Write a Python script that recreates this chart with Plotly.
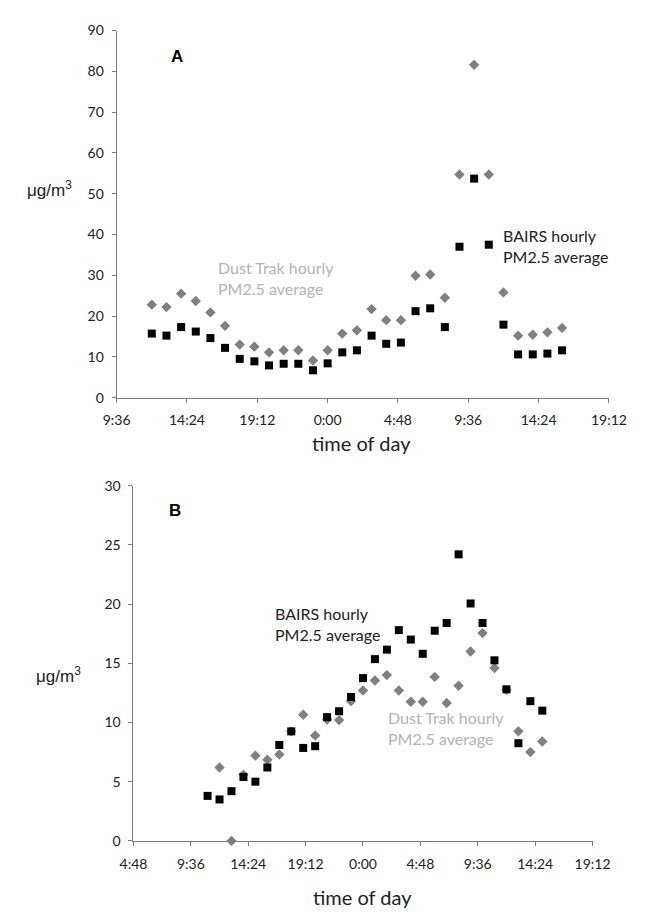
import plotly.graph_objects as go

# ---------------- Panel A data (hours since midnight of day 1) ----------------
a_hours = [12, 13, 14, 15, 16, 17, 18, 19, 20, 21, 22, 23, 24, 25, 26, 27, 28,
           29, 30, 31, 32, 33, 34, 35, 36, 37, 38, 39, 40]
a_bairs = [15.7, 15.2, 17.3, 16.2, 14.6, 12.2, 9.5, 8.9, 7.9, 8.3, 8.3, 6.7,
           8.4, 11.1, 11.6, 15.2, 13.2, 13.5, 21.2, 21.9, 17.3, 37.0, 53.7,
           37.5, 17.9, 10.6, 10.6, 10.8, 11.6]
a_dust = [22.8, 22.2, 25.5, 23.7, 20.9, 17.6, 13.0, 12.5, 11.1, 11.6, 11.6, 9.1,
          11.6, 15.7, 16.5, 21.7, 19.0, 19.0, 29.9, 30.2, 24.5, 54.7, 81.6,
          54.7, 25.8, 15.2, 15.4, 16.0, 17.1]

# ---------------- Panel B data ----------------
b_hours_bairs = [11, 12, 13, 14, 15, 16, 17, 18, 19, 20, 21, 22, 23, 24, 25,
                 26, 27, 28, 29, 30, 31, 32, 33, 34, 35, 36, 37, 38, 39]
b_bairs = [3.8, 3.5, 4.2, 5.4, 5.0, 6.2, 8.1, 9.25, 7.85, 8.0, 10.45, 10.95,
           12.15, 13.75, 15.35, 16.15, 17.8, 17.0, 15.8, 17.75, 18.4, 24.2,
           20.05, 18.4, 15.25, 12.8, 8.25, 11.8, 11.0]
b_hours_dust = [12, 13, 14, 15, 16, 17, 18, 19, 20, 21, 22, 23, 24, 25, 26,
                27, 28, 29, 30, 31, 32, 33, 34, 35, 36, 37, 38, 39]
b_dust = [6.2, 0.0, 5.6, 7.2, 6.85, 7.3, 9.25, 10.65, 8.9, 10.25, 10.2, 11.8,
          12.7, 13.55, 14.0, 12.7, 11.75, 11.75, 13.85, 11.65, 13.1, 16.0,
          17.55, 14.6, 12.75, 9.25, 7.5, 8.4]

# tick positions (fraction of day) and labels
a_tickvals = [0.4, 0.6, 0.8, 1.0, 1.2, 1.4, 1.6, 1.8]
a_ticktext = ["9:36", "14:24", "19:12", "0:00", "4:48", "9:36", "14:24", "19:12"]
b_tickvals = [0.2, 0.4, 0.6, 0.8, 1.0, 1.2, 1.4, 1.6, 1.8]
b_ticktext = ["4:48", "9:36", "14:24", "19:12", "0:00", "4:48", "9:36", "14:24", "19:12"]


def to_day(hours):
    return [h / 24.0 for h in hours]


FONT = "Lato"
AXCOL = "#7a7a7a"
GRAY_MK = "#808080"
GRAY_TXT = "#b4b4b4"
TXT = "#222222"

fig = go.Figure()

sq = dict(symbol="square", size=8, color="black")
di = dict(symbol="diamond", size=8, color=GRAY_MK)

fig.add_trace(go.Scatter(x=to_day(a_hours), y=a_dust, mode="markers", marker=di,
                         xaxis="x", yaxis="y", cliponaxis=False, showlegend=False))
fig.add_trace(go.Scatter(x=to_day(a_hours), y=a_bairs, mode="markers", marker=sq,
                         xaxis="x", yaxis="y", cliponaxis=False, showlegend=False))
fig.add_trace(go.Scatter(x=to_day(b_hours_dust), y=b_dust, mode="markers", marker=di,
                         xaxis="x2", yaxis="y2", cliponaxis=False, showlegend=False))
fig.add_trace(go.Scatter(x=to_day(b_hours_bairs), y=b_bairs, mode="markers", marker=sq,
                         xaxis="x2", yaxis="y2", cliponaxis=False, showlegend=False))

axis_common = dict(showgrid=False, zeroline=False, showline=True, linecolor=AXCOL,
                   linewidth=1, ticks="outside", ticklen=4, tickcolor=AXCOL,
                   tickfont=dict(family=FONT, size=14, color=TXT))

W, H = 645, 912
fig.update_layout(
    width=W, height=H,
    margin=dict(l=0, r=0, t=0, b=0),
    paper_bgcolor="white", plot_bgcolor="white",
    xaxis=dict(domain=[108 / W, 626 / W], range=[0.4, 1.8], tickvals=a_tickvals,
               ticktext=a_ticktext, anchor="y", ticklabelstandoff=6, **axis_common),
    yaxis=dict(domain=[(H - 396) / H, (H - 22) / H], range=[0, 90], dtick=10,
               anchor="x", ticklabelstandoff=5, **axis_common),
    xaxis2=dict(domain=[125.7 / W, 608.7 / W], range=[0.2, 1.8], tickvals=b_tickvals,
                ticktext=b_ticktext, anchor="y2", ticklabelstandoff=6, **axis_common),
    yaxis2=dict(domain=[(H - 847.7) / H, (H - 485.7) / H], range=[0, 30], dtick=5,
                anchor="x2", ticklabelstandoff=5, **axis_common),
)


def note(text, px, py, size, color=TXT, family=FONT, xanchor="center"):
    return dict(text=text, x=px / W, y=1 - py / H, xref="paper", yref="paper",
                xanchor=xanchor, yanchor="middle", align="left", showarrow=False,
                font=dict(family=family, size=size, color=color))


ann = [
    note("<b>A</b>", 172, 48, 17, "black", "Liberation Sans"),
    note("<b>B</b>", 169, 511, 17, "black", "Liberation Sans"),
    note("μg/m<sup>3</sup>", 37.5, 183, 17, TXT, "Liberation Sans"),
    note("μg/m<sup>3</sup>", 47, 679, 17, TXT, "Liberation Sans"),
    note("time of day", 366, 442, 20),
    note("time of day", 367, 905, 20),
    note("Dust Trak hourly<br>PM2.5 average", 213, 274, 16, GRAY_TXT, xanchor="left"),
    note("BAIRS hourly<br>PM2.5 average", 512, 242, 16, TXT, xanchor="left"),
    note("BAIRS hourly<br>PM2.5 average", 273, 627, 16, TXT, xanchor="left"),
    note("Dust Trak hourly<br>PM2.5 average", 391, 733, 16, GRAY_TXT, xanchor="left"),
]
fig.update_layout(annotations=ann)

fig.write_html("out.html")
